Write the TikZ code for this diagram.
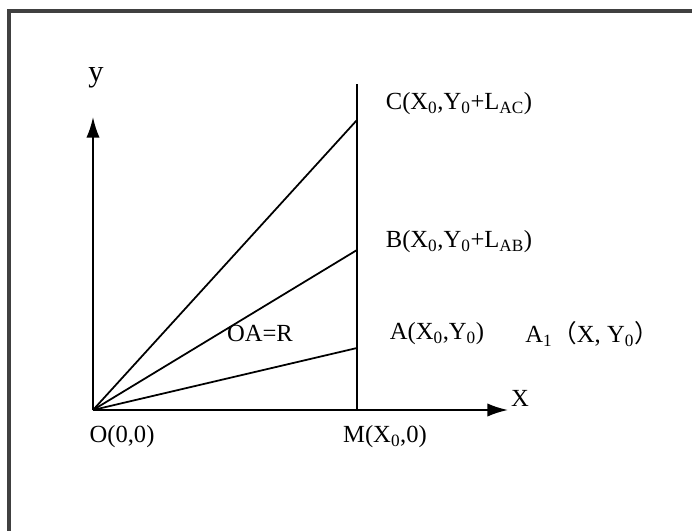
\documentclass[tikz,border=0pt]{standalone}
\usepackage{fontspec}
\setmainfont{Liberation Serif}
\newfontfamily\cjk{Noto Sans CJK SC}
\usetikzlibrary{arrows.meta}
\begin{document}
\begin{tikzpicture}[
	x=0.03cm, y=-0.03cm,
	l/.style = {line width=1.5pt},
	ax/.style = {line width=1.7pt, -{Latex[length=0.62cm,width=0.4cm]}},
	lbl/.style = {font=\fontsize{21}{25}\selectfont, inner sep=0pt},
	axl/.style = {font=\fontsize{26}{30}\selectfont, inner sep=0pt}
	]
	\useasboundingbox (0,0) rectangle (692,531);

	%Frame
	\draw[line width=2.6pt, black!75] (9,531) |- (692,11);

	%Points
	\coordinate	(O)		at	(93,410);
	\coordinate	(M)		at	(357,410);
	\coordinate	(top)	at	(357,84);
	\coordinate	(A)		at	(357,348);
	\coordinate	(B)		at	(357,250);
	\coordinate	(C)		at	(357,120);
	\coordinate	(ytip)	at	(93,117);
	\coordinate	(xtip)	at	(508,410);

	%Nodes
	\node[axl]	(ylab)	at	(96,78)		{y};
	\node[lbl]	(xlab)	at	(520,398)	{X};
	\node[lbl]	(Clab)	at	(459,104)	{C(X\textsubscript{0},Y\textsubscript{0}+L\textsubscript{AC})};
	\node[lbl]	(Blab)	at	(459,242)	{B(X\textsubscript{0},Y\textsubscript{0}+L\textsubscript{AB})};
	\node[lbl]	(R)		at	(260,333)	{OA=R};
	\node[lbl]	(Alab)	at	(437,334)	{A(X\textsubscript{0},Y\textsubscript{0})};
	\node[lbl]	(A1lab)	at	(592,334)	{A\textsubscript{1}{\cjk （}X, Y\textsubscript{0}{\cjk ）}};
	\node[lbl]	(Olab)	at	(122,437)	{O(0,0)};
	\node[lbl]	(Mlab)	at	(385,437)	{M(X\textsubscript{0},0)};

	%Lines
	\draw[ax]	(O)	--	(ytip);
	\draw[ax]	(O)	--	(xtip);
	\draw[l]	(M)	--	(top);
	\draw[l]	(O)	--	(A);
	\draw[l]	(O)	--	(B);
	\draw[l]	(O)	--	(C);
\end{tikzpicture}
\end{document}
